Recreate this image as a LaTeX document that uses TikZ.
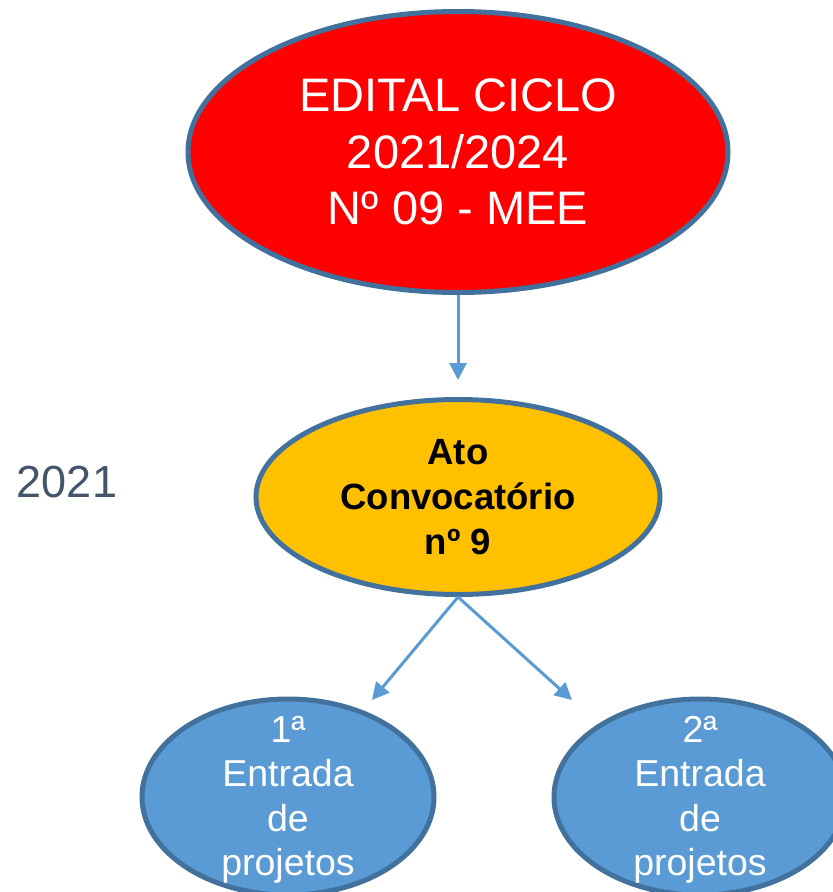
\documentclass[tikz,border=0pt]{standalone}
\usepackage{fontspec}
\setmainfont{Liberation Sans}
\usepackage{xcolor}
\usepackage{tikz}
\usetikzlibrary{arrows.meta}
\usetikzlibrary{shapes.geometric}
\definecolor{contorno}{HTML}{41719C}
\definecolor{azulseta}{HTML}{5B9BD5}
\definecolor{amarelo}{HTML}{FFC000}
\definecolor{cinzaano}{HTML}{44546A}

\begin{document}
\begin{tikzpicture}[x=1pt,y=-1pt,
	elipse/.style={ellipse,draw=contorno,line width=5pt,inner sep=0pt},
	entrada/.style={elipse,fill=azulseta,minimum width=292pt,minimum height=196pt},
	textoentrada/.style={text=white,align=center,font=\fontsize{37.5}{44.5}\selectfont,yshift=-3pt},
	seta/.style={-{Triangle[width=17pt,length=17pt]},draw=azulseta,line width=3pt}]
	\useasboundingbox (0,0) rectangle (833,892);
	\clip (0,0) rectangle (833,892);
	\node[elipse,fill=red,minimum width=540pt,minimum height=281pt,text=white,align=center,font=\fontsize{47}{56.5}\selectfont] (edital) at (458,152) {EDITAL CICLO\\2021/2024\\Nº 09 - MEE};
	\node[elipse,fill=amarelo,minimum width=404pt,minimum height=195pt,align=center,font=\fontsize{36.5}{45}\selectfont\bfseries] (ato) at (458,497) {Ato\\Convocatório\\nº 9};
	\node[text=cinzaano,font=\fontsize{45}{54}\selectfont] (ano) at (67,482) {2021};
	\node[entrada,label={[textoentrada]center:1ª\\Entrada\\de\\projetos}] (ent1) at (288,797) {};
	\node[entrada,label={[textoentrada]center:2ª\\Entrada\\de\\projetos}] (ent2) at (700,797) {};
	\coordinate (ponta1) at (372,700);
	\coordinate (ponta2) at (572,700);
	\draw[seta,shorten >=17pt] (edital) -- (ato);
	\draw[seta] (ato.south) -- (ponta1);
	\draw[seta] (ato.south) -- (ponta2);
\end{tikzpicture}
\end{document}
